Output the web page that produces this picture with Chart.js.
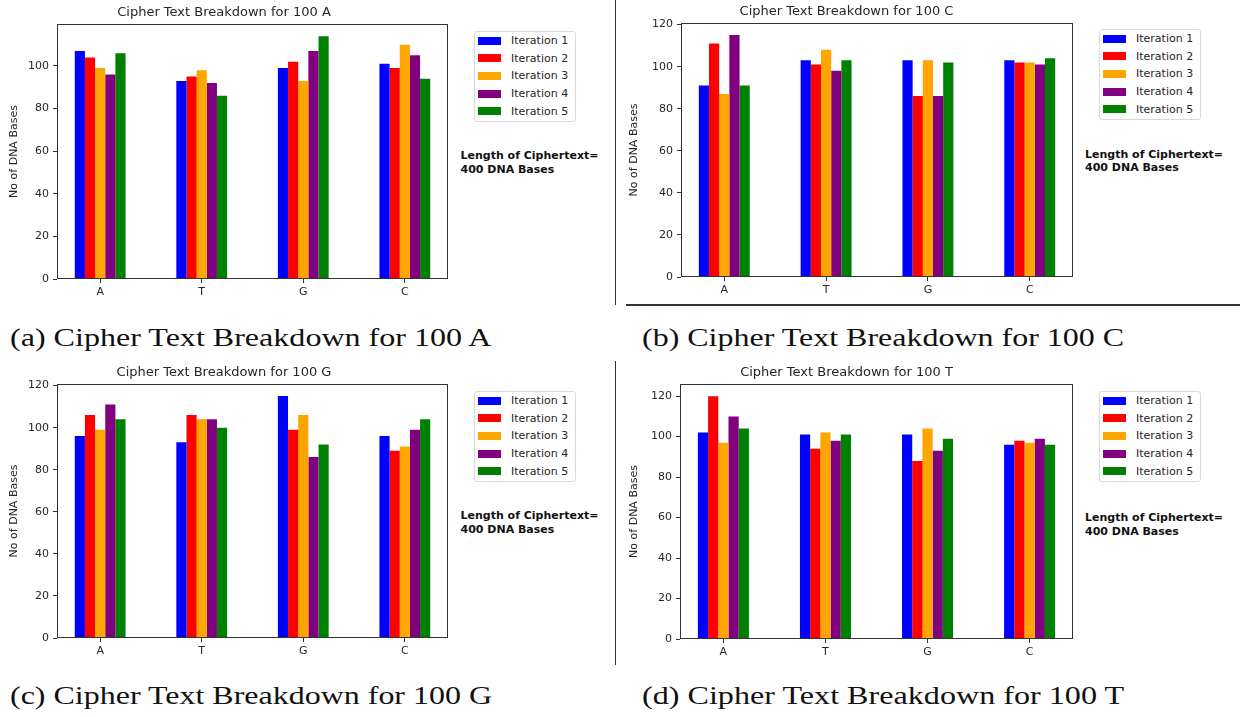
<!DOCTYPE html>
<html>
<head>
<meta charset="utf-8">
<script src="https://cdn.jsdelivr.net/npm/chart.js@4.4.0/dist/chart.umd.min.js"></script>
<style>
  body { margin: 0; background: #fff; }
  #page { position: relative; width: 1251px; height: 717px; overflow: hidden; font-family: 'DejaVu Sans', sans-serif; color: #262626; }
  canvas { position: absolute; }
  .legend { position: absolute; width: 102px; height: 91px; border: 1px solid #d9d9d9; border-radius: 3px; background: #fff; box-sizing: border-box; }
  .legend .row { position: absolute; left: 0; height: 17.6px; display: flex; align-items: center; font-size: 11px; }
  .legend .swatch { width: 23px; height: 8px; margin-left: 3px; margin-right: 10px; }
  .note { position: absolute; font-size: 11px; font-weight: bold; line-height: 13.5px; color: #111; white-space: nowrap; }
  .caption { position: absolute; font-family: 'Liberation Serif', serif; font-size: 26px; line-height: 26px; color: #111; white-space: nowrap; transform-origin: left top; }
  .sep { position: absolute; background: #333; }
</style>
</head>
<body>
<div id="page"></div>
<script>
const bases = ['A', 'T', 'G', 'C']
const iterations = ['Iteration 1', 'Iteration 2', 'Iteration 3', 'Iteration 4', 'Iteration 5']
const colors = ['#0000ff', '#ff0000', '#ffa500', '#800080', '#008000']

// one row per iteration, one column per base (A, T, G, C)
const breakdown100A = [
  [107, 93, 99, 101],
  [104, 95, 102, 99],
  [99, 98, 93, 110],
  [96, 92, 107, 105],
  [106, 86, 114, 94]
]
const breakdown100C = [
  [91, 103, 103, 103],
  [111, 101, 86, 102],
  [87, 108, 103, 102],
  [115, 98, 86, 101],
  [91, 103, 102, 104]
]
const breakdown100G = [
  [96, 93, 115, 96],
  [106, 106, 99, 89],
  [99, 104, 106, 91],
  [111, 104, 86, 99],
  [104, 100, 92, 104]
]
const breakdown100T = [
  [102, 101, 101, 96],
  [120, 94, 88, 98],
  [97, 102, 104, 97],
  [110, 98, 93, 99],
  [104, 101, 99, 96]
]

const noteLines = ['Length of Ciphertext=', '400 DNA Bases']

const panels = [
  { title: 'Cipher Text Breakdown for 100 A', caption: '(a) Cipher Text Breakdown for 100 A', values: breakdown100A,
    left: 0, top: 0, area: [57, 24, 448, 279], legend: [474, 30.5], note: [460.5, 149], cap: [10, 347] },
  { title: 'Cipher Text Breakdown for 100 C', caption: '(b) Cipher Text Breakdown for 100 C', values: breakdown100C,
    left: 620, top: 0, area: [61, 23, 453, 277], legend: [1099, 28.5], note: [1085, 147.5], cap: [642, 347] },
  { title: 'Cipher Text Breakdown for 100 G', caption: '(c) Cipher Text Breakdown for 100 G', values: breakdown100G,
    left: 0, top: 360, area: [57, 24, 448, 278], legend: [474, 390.5], note: [460.5, 509], cap: [10, 705] },
  { title: 'Cipher Text Breakdown for 100 T', caption: '(d) Cipher Text Breakdown for 100 T', values: breakdown100T,
    left: 620, top: 360, area: [60, 24, 453, 279], legend: [1099, 390.5], note: [1085, 511], cap: [642, 705] }
]
const captionWidth = 482

Chart.defaults.font.family = "'DejaVu Sans', sans-serif"
Chart.defaults.color = '#262626'

const page = document.getElementById('page')

// matplotlib style box round the plot area
const frame = {
  id: 'frame',
  afterDraw (chart) {
    const { ctx, chartArea: a } = chart
    ctx.save()
    ctx.strokeStyle = '#333'
    ctx.lineWidth = 1
    ctx.strokeRect(Math.round(a.left) + 0.5, Math.round(a.top) + 0.5, Math.round(a.right - a.left) - 1, Math.round(a.bottom - a.top) - 1)
    ctx.restore()
  }
}

function addBox (cls, x, y, w, h) {
  const el = document.createElement('div')
  el.className = cls
  el.style.left = x + 'px'
  el.style.top = y + 'px'
  if (w !== undefined) el.style.width = w + 'px'
  if (h !== undefined) el.style.height = h + 'px'
  page.appendChild(el)
  return el
}

function drawPanel (p) {
  const W = 460
  const H = 300
  const [aL, aT, aR, aB] = p.area
  const canvas = document.createElement('canvas')
  canvas.width = W
  canvas.height = H
  canvas.style.left = p.left + 'px'
  canvas.style.top = p.top + 'px'
  page.appendChild(canvas)

  const peak = Math.max(...p.values.flat())

  new Chart(canvas, {
    type: 'bar',
    data: {
      datasets: iterations.map((name, i) => ({
        label: name,
        data: p.values[i].map((v, j) => ({ x: j, y: v })),
        backgroundColor: colors[i],
        borderWidth: 0
      }))
    },
    options: {
      responsive: false,
      animation: false,
      layout: { padding: { left: 0, right: W - aR, top: 0, bottom: 0 } },
      datasets: { bar: { barPercentage: 1, categoryPercentage: 0.5 } },
      plugins: {
        legend: { display: false },
        tooltip: { enabled: false },
        title: {
          display: true,
          text: p.title,
          font: { size: 13, weight: 'normal' },
          padding: { top: aT - 15.6 - 3.5, bottom: 3.5 }
        }
      },
      scales: {
        x: {
          type: 'linear',
          min: -0.425,
          max: 3.425,
          offset: false,
          afterBuildTicks: s => { s.ticks = bases.map((b, i) => ({ value: i })) },
          afterFit: s => { s.height = H - aB },
          grid: { offset: false, drawOnChartArea: false, tickLength: 4, color: '#333' },
          border: { display: false },
          ticks: { callback: v => bases[v], font: { size: 11 }, padding: 3, maxRotation: 0 }
        },
        y: {
          min: 0,
          max: peak * 1.05,
          afterBuildTicks: s => {
            const ticks = []
            for (let v = 0; v <= s.max; v += 20) ticks.push({ value: v })
            s.ticks = ticks
          },
          afterFit: s => { s.width = aL },
          grid: { drawOnChartArea: false, tickLength: 4, color: '#333' },
          border: { display: false },
          ticks: { font: { size: 11 }, padding: 4 },
          title: { display: true, text: 'No of DNA Bases', font: { size: 11 }, padding: { top: 8, bottom: 0 } }
        }
      }
    },
    plugins: [frame]
  })

  const legend = addBox('legend', p.legend[0], p.legend[1])
  iterations.forEach((name, i) => {
    const row = document.createElement('div')
    row.className = 'row'
    row.style.top = (0.5 + i * 17.6) + 'px'
    const sw = document.createElement('span')
    sw.className = 'swatch'
    sw.style.background = colors[i]
    const label = document.createElement('span')
    label.textContent = name
    row.appendChild(sw)
    row.appendChild(label)
    legend.appendChild(row)
  })

  const note = addBox('note', p.note[0], p.note[1])
  note.innerHTML = noteLines.join('<br>')

  // serif caption under each panel, stretched to the width of the LaTeX one
  const cap = addBox('caption', p.cap[0], p.cap[1] - 22)
  cap.textContent = p.caption
  cap.style.transform = 'scaleX(' + (captionWidth / cap.offsetWidth).toFixed(3) + ')'
}

panels.forEach(drawPanel)

// separators between the sub figures
addBox('sep', 615, 0, 1, 305)
addBox('sep', 626, 304, 614, 1.5)
addBox('sep', 615, 361, 1, 304)
</script>
</body>
</html>
